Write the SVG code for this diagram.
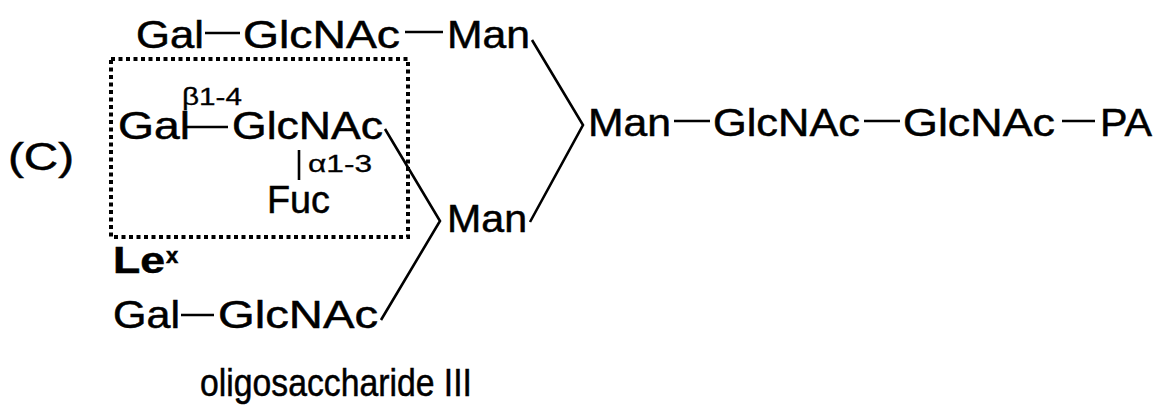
<svg xmlns="http://www.w3.org/2000/svg" width="1163" height="411" viewBox="0 0 1163 411">
<style>
text{font-family:"Liberation Sans",Arial,sans-serif;fill:#000;stroke:#000;stroke-width:0.5}
.t{font-size:38px}
.s{font-size:24px;stroke-width:0.3}
.b{font-size:36px;font-weight:bold}
.bs{font-size:22px;font-weight:bold}
.c line,.c polyline{stroke:#000;stroke-width:2.6;fill:none}
.box{fill:none;stroke:#000;stroke-width:4;stroke-dasharray:4 3.5}
</style>
<rect width="1163" height="411" fill="#fff"/>
<text id="label" class="t" x="8" y="170" textLength="66" lengthAdjust="spacingAndGlyphs">(C)</text>
<rect id="lex-box" class="box" x="111" y="59" width="297" height="178"/>
<g id="top-row">
<text class="t" x="136" y="48" textLength="68" lengthAdjust="spacingAndGlyphs">Gal</text>
<text class="t" x="243" y="48" textLength="157" lengthAdjust="spacingAndGlyphs">GlcNAc</text>
<text class="t" x="447" y="48" textLength="83" lengthAdjust="spacingAndGlyphs">Man</text>
</g>
<g id="lex">
<text class="s" x="182" y="105" textLength="60" lengthAdjust="spacingAndGlyphs">β1-4</text>
<text class="t" x="118" y="139" textLength="72" lengthAdjust="spacingAndGlyphs">Gal</text>
<text class="t" x="232" y="139" textLength="151" lengthAdjust="spacingAndGlyphs">GlcNAc</text>
<text class="s" x="308" y="172" textLength="64" lengthAdjust="spacingAndGlyphs">α1-3</text>
<text class="t" x="267" y="213" textLength="63" lengthAdjust="spacingAndGlyphs">Fuc</text>
</g>
<g id="man-lower"><text class="t" x="447" y="232" textLength="80" lengthAdjust="spacingAndGlyphs">Man</text></g>
<g id="lex-label"><text class="b" x="113" y="273" textLength="52" lengthAdjust="spacingAndGlyphs">Le</text><text class="bs" x="166" y="263">x</text></g>
<g id="bottom-row">
<text class="t" x="113" y="328" textLength="67" lengthAdjust="spacingAndGlyphs">Gal</text>
<text class="t" x="218" y="328" textLength="160" lengthAdjust="spacingAndGlyphs">GlcNAc</text>
</g>
<g id="main-row">
<text class="t" x="588" y="136" textLength="83" lengthAdjust="spacingAndGlyphs">Man</text>
<text class="t" x="713" y="136" textLength="147" lengthAdjust="spacingAndGlyphs">GlcNAc</text>
<text class="t" x="903" y="136" textLength="152" lengthAdjust="spacingAndGlyphs">GlcNAc</text>
<text class="t" x="1100" y="136" textLength="52" lengthAdjust="spacingAndGlyphs">PA</text>
</g>
<g id="caption"><text class="t" x="200" y="396" textLength="272" lengthAdjust="spacingAndGlyphs">oligosaccharide III</text></g>
<g id="connectors" class="c">
<line x1="205" y1="33" x2="240" y2="33"/>
<line x1="405" y1="32" x2="443" y2="32"/>
<line x1="186" y1="127" x2="228" y2="127"/>
<line x1="299" y1="150" x2="299" y2="180"/>
<line x1="181" y1="315" x2="214" y2="315"/>
<line x1="674" y1="121" x2="710" y2="121"/>
<line x1="864" y1="121" x2="900" y2="121"/>
<line x1="1062" y1="121" x2="1095" y2="121"/>
<polyline points="532,40 583,125 530,222"/>
<polyline points="385,129 440,221 381,320"/>
</g>
</svg>
